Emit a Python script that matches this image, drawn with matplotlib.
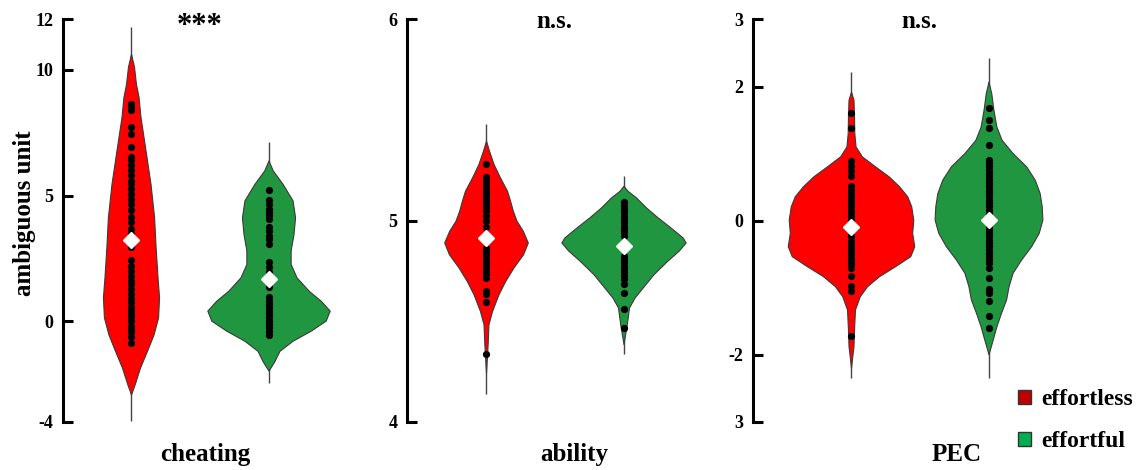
import numpy as np
import matplotlib.pyplot as plt
from matplotlib.patches import Patch

plt.rcParams['font.family'] = ['Liberation Serif', 'DejaVu Serif']
plt.rcParams['font.weight'] = 'bold'

# ---- data ----
panels = ['cheating', 'ability', 'PEC']
groups = ['effortless', 'effortful']
titles = ['***', 'n.s.', 'n.s.']

# violin outlines: y levels and half widths (x units, 1 = gap between violins)
cheat_red_y = [10.64, 10.12, 9.44, 8.92, 8.13, 7.33, 6.53, 5.46, 4.14, 2.95, 1.75, 0.96, 0.16, -0.52, -1.16, -1.83, -2.51, -2.91]
cheat_red_w = [0, 0.022, 0.036, 0.055, 0.069, 0.091, 0.113, 0.142, 0.168, 0.179, 0.193, 0.204, 0.197, 0.164, 0.117, 0.066, 0.026, 0]
cheat_grn_y = [6.40, 6.00, 5.47, 4.81, 4.14, 3.48, 2.82, 2.28, 1.75, 1.22, 0.82, 0.43, 0.03, -0.37, -0.77, -1.17, -1.57, -1.96]
cheat_grn_w = [0, 0.031, 0.102, 0.175, 0.193, 0.182, 0.161, 0.161, 0.204, 0.292, 0.38, 0.445, 0.416, 0.307, 0.175, 0.08, 0.044, 0]

abil_red_y = [5.398, 5.348, 5.282, 5.215, 5.149, 5.10, 5.05, 5.00, 4.95, 4.892, 4.834, 4.768, 4.70, 4.635, 4.552, 4.486, 4.387, 4.245]
abil_red_w = [0, 0.022, 0.055, 0.102, 0.153, 0.175, 0.195, 0.222, 0.268, 0.304, 0.27, 0.2, 0.139, 0.091, 0.044, 0.018, 0.012, 0]
abil_grn_y = [5.174, 5.149, 5.116, 5.066, 5.017, 4.967, 4.917, 4.892, 4.851, 4.801, 4.735, 4.668, 4.618, 4.569, 4.486, 4.387]
abil_grn_w = [0, 0.029, 0.091, 0.164, 0.248, 0.341, 0.43, 0.452, 0.401, 0.318, 0.219, 0.139, 0.08, 0.04, 0.024, 0]

pec_red_y = [1.927, 1.803, 1.555, 1.307, 1.109, 0.960, 0.811, 0.662, 0.513, 0.365, 0.216, 0.017, -0.181, -0.379, -0.528, -0.677, -0.826, -0.975, -1.124, -1.322, -1.620, -1.868, -2.190]
pec_red_w = [0, 0.018, 0.022, 0.024, 0.033, 0.079, 0.175, 0.274, 0.35, 0.409, 0.438, 0.453, 0.445, 0.46, 0.431, 0.321, 0.204, 0.117, 0.064, 0.029, 0.022, 0.018, 0]
pec_grn_y = [2.076, 1.902, 1.654, 1.406, 1.208, 1.009, 0.811, 0.613, 0.414, 0.216, 0.017, -0.181, -0.379, -0.578, -0.776, -0.975, -1.173, -1.372, -1.570, -1.768, -1.991]
pec_grn_w = [0, 0.02, 0.036, 0.057, 0.095, 0.175, 0.274, 0.336, 0.372, 0.387, 0.392, 0.365, 0.31, 0.237, 0.175, 0.146, 0.128, 0.091, 0.058, 0.031, 0]

# individual points
cheat_red_pts = [8.63, 8.53, 8.42, 7.73, 7.46, 6.93, 6.53, 6.40, 6.20, 6.00, 5.80, 5.60, 5.47, 5.27, 5.07, 4.87, 4.67, 4.41,
                 4.14, 3.94, 3.68, 3.48, 2.95, 2.42, 2.22, 2.02, 1.82, 1.62, 1.49, 1.29, 1.09, 0.89, 0.76, 0.56, 0.43, 0.29,
                 0.16, 0.03, -0.17, -0.31, -0.44, -0.64, -0.84]
cheat_grn_pts = [5.21, 4.81, 4.67, 4.47, 4.34, 4.21, 4.08, 3.75, 3.61, 3.41, 3.28, 3.08, 2.35, 2.15, 1.95, 1.35, 0.96, 0.82,
                 0.69, 0.56, 0.43, 0.29, 0.16, 0.03, -0.11, -0.24, -0.37, -0.53]
abil_red_pts = [5.282, 5.215, 5.199, 5.182, 5.165, 5.149, 5.132, 5.116, 5.10, 5.083, 5.066, 5.05, 5.025, 5.00, 4.967, 4.867,
                4.851, 4.834, 4.817, 4.801, 4.785, 4.768, 4.751, 4.735, 4.718, 4.652, 4.635, 4.594, 4.337]
abil_grn_pts = [5.091, 5.075, 5.058, 5.041, 5.025, 5.008, 4.992, 4.975, 4.959, 4.942, 4.925, 4.826, 4.809, 4.793, 4.776,
                4.760, 4.743, 4.726, 4.710, 4.685, 4.643, 4.561, 4.469]
pec_red_pts = [1.605, 1.381, 0.885, 0.811, 0.737, 0.662, 0.513, 0.464, 0.414, 0.365, 0.315, 0.265, 0.216, 0.166, 0.117,
               0.067, 0.017, -0.231, -0.305, -0.355, -0.404, -0.454, -0.503, -0.553, -0.603, -0.652, -0.702, -0.826,
               -0.975, -1.049, -1.719]
pec_grn_pts = [1.679, 1.506, 1.381, 1.133, 0.910, 0.861, 0.811, 0.761, 0.712, 0.662, 0.613, 0.563, 0.513, 0.464, 0.414,
               0.365, 0.315, 0.265, 0.216, 0.166, 0.117, -0.082, -0.132, -0.181, -0.231, -0.280, -0.330, -0.379, -0.429,
               -0.479, -0.528, -0.578, -0.627, -0.702, -0.851, -1.024, -1.049, -1.074, -1.198, -1.421, -1.595]

means = [[3.24, 1.69], [4.912, 4.876], [-0.097, 0.018]]
line_lo = [[-3.95, -2.43], [4.14, 4.337], [-2.34, -2.34]]
line_hi = [[11.7, 7.13], [5.48, 5.224], [2.22, 2.42]]

shapes = [[(cheat_red_y, cheat_red_w), (cheat_grn_y, cheat_grn_w)],
          [(abil_red_y, abil_red_w), (abil_grn_y, abil_grn_w)],
          [(pec_red_y, pec_red_w), (pec_grn_y, pec_grn_w)]]
points = [[cheat_red_pts, cheat_grn_pts], [abil_red_pts, abil_grn_pts], [pec_red_pts, pec_grn_pts]]

ylims = [(-4, 12), (4, 6), (-3, 3)]
yticks = [[-4, 0, 5, 10, 12], [4, 5, 6], [-3, -2, 0, 2, 3]]
yticklabels = [['-4', '0', '5', '10', '12'], ['4', '5', '6'], ['3', '-2', '0', '2', '3']]

colors = ['#ff0000', '#1f963f']
legend_colors = ['#c00000', '#00b050']

# ---- layout ----
fig = plt.figure(figsize=(11.41, 4.70), dpi=100)
W, H = 1141, 470
ax_left = [63, 407, 753]
red_x = [131, 486, 851]
gap = 137.5
ax_w = 300
top_px, bot_px = 19.5, 422
xlab_x = [205, 574, 957]

for i in range(3):
    ax = fig.add_axes([ax_left[i] / W, 1 - bot_px / H, ax_w / W, (bot_px - top_px) / H])
    xl = -(red_x[i] - ax_left[i]) / gap
    ax.set_xlim(xl, xl + ax_w / gap)
    ax.set_ylim(*ylims[i])
    for j in range(2):
        yy, ww = shapes[i][j]
        yy = np.array(yy)
        ww = np.array(ww)
        ax.vlines(j, line_lo[i][j], line_hi[i][j], color='#444444', lw=1, zorder=1)
        ax.fill_betweenx(yy, j - ww, j + ww, facecolor=colors[j], edgecolor='#3a3a3a', lw=0.8, zorder=2)
        pts = points[i][j]
        ax.plot([j] * len(pts), pts, 'o', color='black', ms=4.2, zorder=3)
        ax.plot(j, means[i][j], 'D', color='white', ms=8, zorder=4)

    for s in ['top', 'right', 'bottom']:
        ax.spines[s].set_visible(False)
    ax.spines['left'].set_linewidth(2.2)
    ax.set_xticks([])
    ax.set_yticks(yticks[i])
    ax.set_yticklabels(yticklabels[i])
    ax.tick_params(axis='y', direction='in', length=7, width=2.2, pad=7, labelsize=13)
    for lab in ax.get_yticklabels():
        lab.set_fontweight('bold')

    if titles[i] == '***':
        ax.text(0.5, 1 - (34 - top_px) / (bot_px - top_px), titles[i], transform=ax.get_xaxis_transform(),
                ha='center', va='baseline', fontsize=22, fontweight='bold')
    else:
        ax.text(0.5, 1 - (28 - top_px) / (bot_px - top_px), titles[i], transform=ax.get_xaxis_transform(),
                ha='center', va='baseline', fontsize=18, fontweight='bold')

    fig.text(xlab_x[i] / W, 1 - 461 / H, panels[i], ha='center', va='baseline', fontsize=18, fontweight='bold')

fig.text(25 / W, 1 - 213 / H, 'ambiguous unit', rotation=90, ha='center', va='center', fontsize=18, fontweight='bold')

handles = [Patch(facecolor=legend_colors[k], edgecolor='#333333', lw=1) for k in range(2)]
fig.legend(handles, groups, loc='upper left', bbox_to_anchor=(1011 / W, 1 - 382 / H), frameon=False,
           borderpad=0.3, borderaxespad=0,
           handlelength=0.55, handleheight=0.55, handletextpad=0.45, labelspacing=0.9,
           prop={'family': 'Liberation Serif', 'weight': 'bold', 'size': 17})

fig.savefig('out.png', dpi=100)
